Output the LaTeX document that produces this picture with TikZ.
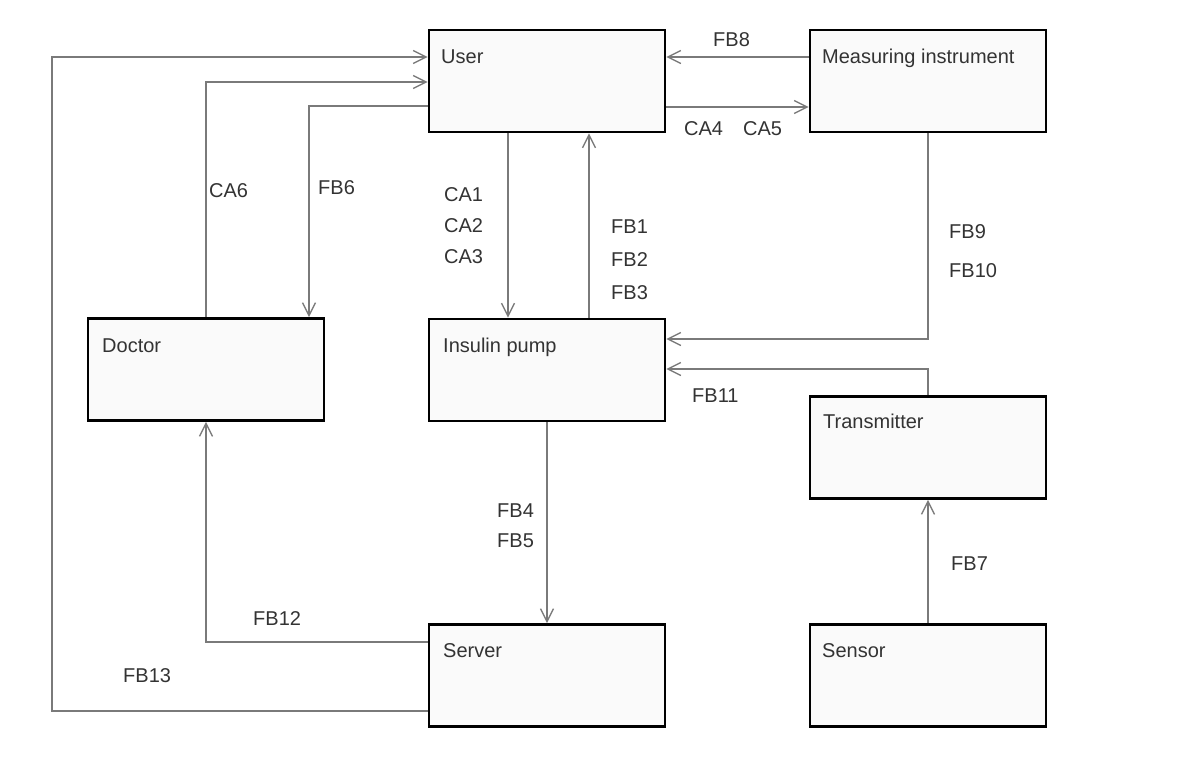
\documentclass[tikz,border=0pt]{standalone}
\usepackage{fontspec}
\setmainfont{Liberation Sans}
\usetikzlibrary{arrows.meta}

\definecolor{boxfill}{HTML}{FAFAFA}
\definecolor{linecol}{HTML}{7A7A7A}
\definecolor{txtcol}{HTML}{333333}

\tikzset{
  block/.style={draw=black, line width=2.6pt, fill=boxfill, inner sep=0pt,
                minimum width=236pt, minimum height=102pt},
  txt/.style={anchor=base west, inner sep=0pt, text=txtcol,
              font=\fontsize{20}{24}\selectfont},
  link/.style={draw=linecol, line width=1.4pt},
  arr/.style={link, -{Straight Barb[length=13pt,width=13pt]}}
}

\begin{document}
\begin{tikzpicture}[x=1pt, y=-1pt]
  \fill[white] (0,0) rectangle (1182,758);
  \useasboundingbox (0,0) rectangle (1182,758);

  % blocks
  \node[block] (user)   at (547,81)    {};
  \node[block] (meas)   at (928,81)    {};
  \node[block] (doctor) at (206,369.5) {};
  \node[block] (pump)   at (547,370)   {};
  \node[block] (trans)  at (928,447.5) {};
  \node[block] (server) at (547,675.5) {};
  \node[block] (sensor) at (928,675.5) {};

  % block titles
  \node[txt] (userT)   at (441,63)  {User};
  \node[txt] (measT)   at (822,63)  {Measuring instrument};
  \node[txt] (doctorT) at (102,352) {Doctor};
  \node[txt] (pumpT)   at (443,352) {Insulin pump};
  \node[txt] (transT)  at (823,428) {Transmitter};
  \node[txt] (serverT) at (443,657) {Server};
  \node[txt] (sensorT) at (822,657) {Sensor};

  % connectors
  \draw[arr] (meas.west |- 0,57) -- (user.east |- 0,57);
  \draw[arr] (user.east |- 0,107) -- (meas.west |- 0,107);
  \draw[arr] (server.west |- 0,711) -| (52,57) -- (user.west |- 0,57);
  \draw[arr] (doctor.north) |- (user.west |- 0,82);
  \draw[arr] (user.west |- 0,106) -| (doctor.north -| 309,0);
  \draw[arr] (user.south -| 508,0) -- (pump.north -| 508,0);
  \draw[arr] (pump.north -| 589,0) -- (user.south -| 589,0);
  \draw[arr] (meas.south) |- (pump.east |- 0,339);
  \draw[arr] (trans.north) |- (pump.east |- 0,369);
  \draw[arr] (sensor.north) -- (trans.south);
  \draw[arr] (pump.south) -- (server.north);
  \draw[arr] (server.west |- 0,642) -| (doctor.south);

  % connector labels
  \node[txt] (fb8)  at (713,46)  {FB8};
  \node[txt] (ca4)  at (684,135) {CA4};
  \node[txt] (ca5)  at (743,135) {CA5};
  \node[txt] (ca6)  at (209,197) {CA6};
  \node[txt] (fb6)  at (318,194) {FB6};
  \node[txt] (ca1)  at (444,201) {CA1};
  \node[txt] (ca2)  at (444,232) {CA2};
  \node[txt] (ca3)  at (444,263) {CA3};
  \node[txt] (fb1)  at (611,233) {FB1};
  \node[txt] (fb2)  at (611,266) {FB2};
  \node[txt] (fb3)  at (611,299) {FB3};
  \node[txt] (fb9)  at (949,238) {FB9};
  \node[txt] (fb10) at (949,277) {FB10};
  \node[txt] (fb11) at (692,402) {FB11};
  \node[txt] (fb4)  at (497,517) {FB4};
  \node[txt] (fb5)  at (497,547) {FB5};
  \node[txt] (fb7)  at (951,570) {FB7};
  \node[txt] (fb12) at (253,625) {FB12};
  \node[txt] (fb13) at (123,682) {FB13};
\end{tikzpicture}
\end{document}
